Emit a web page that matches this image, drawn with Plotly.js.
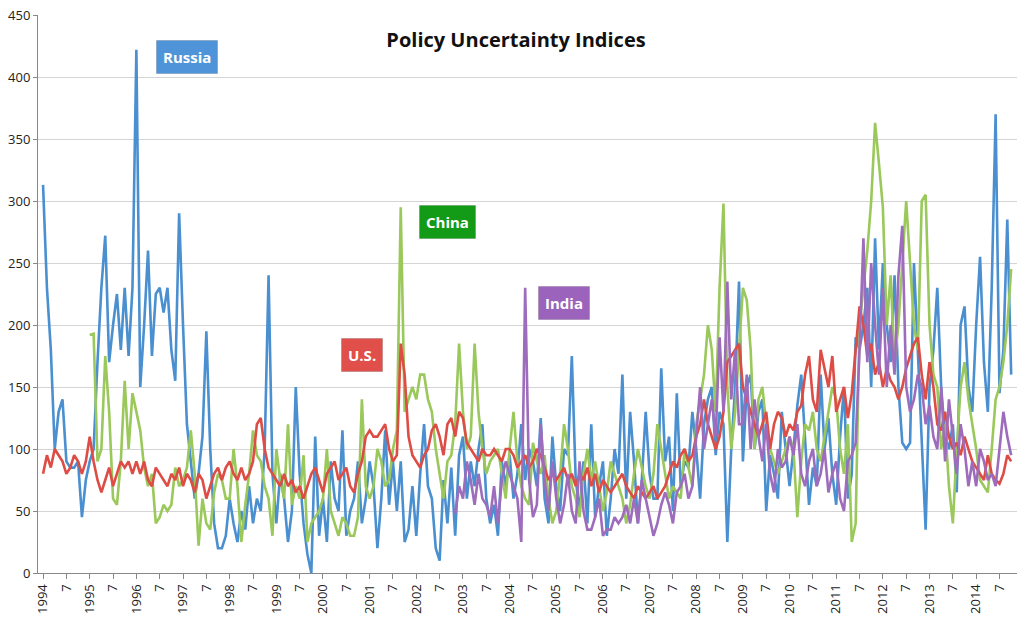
<!DOCTYPE html>
<html>
<head>
<meta charset="utf-8">
<script src="https://cdn.plot.ly/plotly-3.0.1.min.js"></script>
<style>html,body{margin:0;padding:0;background:#fff}#chart{width:1032px;height:630px}</style>
</head>
<body>
<div id="chart"></div>
<script>
// Monthly index values, Jan 1994 onwards (one row per year)
const russia = [
  313,230,180,100,130,140,90,85,85,90,45,75,
  90,100,170,230,272,170,200,225,180,230,175,230,
  422,150,200,260,175,225,230,210,230,180,155,290,
  200,120,90,60,80,110,195,100,40,20,20,30,
  60,40,25,50,35,70,40,60,50,100,240,80,
  40,80,60,25,50,150,80,40,15,0,110,30,
  60,25,90,60,50,115,30,50,60,90,40,60,
  90,70,20,60,115,55,90,50,90,25,35,70,
  30,80,120,70,60,20,10,75,40,85,30,95,
  110,60,90,70,100,120,60,40,55,30,90,70,
  95,60,80,120,75,100,90,70,125,60,40,110,
  70,50,100,95,175,75,50,90,40,120,45,70,
  90,30,60,100,80,160,60,130,90,40,75,130,
  80,60,60,165,90,110,50,145,70,90,85,130,
  100,60,120,140,150,95,130,120,25,100,150,235,
  90,150,160,100,130,140,50,95,80,60,130,100,
  70,100,135,160,110,55,85,70,160,100,125,80,
  55,110,150,60,80,190,180,200,230,150,270,180,
  250,200,170,240,150,105,100,105,250,180,100,35,
  150,180,230,150,110,100,120,65,200,215,150,130,
  200,255,170,130,230,370,145,180,285,160
];
const us = [
  80,95,85,100,95,90,80,85,95,90,80,90,
  110,90,75,65,75,85,70,80,90,85,90,80,
  90,80,90,75,70,85,80,75,70,80,75,85,
  70,80,75,65,80,75,60,70,80,85,75,85,
  90,80,75,85,75,80,90,120,125,100,85,80,
  75,70,80,70,75,65,70,60,70,80,85,75,
  65,80,85,90,75,80,85,70,65,80,90,110,
  115,110,110,115,120,100,90,95,185,160,110,95,
  90,85,95,100,115,120,110,95,120,125,110,130,
  125,105,100,95,90,100,95,95,100,95,90,100,
  100,95,85,90,95,85,90,100,95,85,75,80,
  75,80,85,75,80,70,80,75,85,70,80,65,
  75,70,65,70,75,80,70,65,60,70,65,60,
  65,70,60,65,70,80,90,85,95,100,90,95,
  110,120,140,120,110,100,110,130,170,175,180,185,
  150,140,130,120,110,120,130,100,120,130,125,110,
  120,115,130,135,160,175,140,130,180,165,150,175,
  130,140,150,125,145,180,215,200,175,185,160,170,
  150,165,155,150,140,150,165,175,185,190,160,140,
  170,150,120,115,130,110,100,105,95,110,100,90,
  85,80,75,95,80,75,72,80,95,90
];
const chinaStart = 12; // Jan 1995
const china = [
  192,193,90,100,175,130,60,55,90,155,100,145,
  130,115,85,70,80,40,45,55,50,55,85,70,
  75,85,115,80,22,60,40,35,65,80,75,60,
  60,100,70,25,55,80,115,95,90,70,60,30,
  100,75,60,120,55,70,60,95,25,40,45,50,
  60,100,50,40,30,45,40,30,30,45,140,70,
  60,70,100,90,70,75,100,115,295,130,140,150,
  140,160,160,140,130,100,80,60,90,95,120,185,
  130,100,110,185,130,100,80,90,95,100,80,60,
  100,130,90,70,60,55,105,90,80,95,60,40,
  50,80,120,100,70,60,45,80,100,75,90,70,
  50,65,90,80,70,60,40,55,80,100,85,70,
  60,80,120,100,80,60,70,65,60,100,85,70,
  120,140,160,200,180,130,230,298,150,100,130,180,
  230,220,180,100,140,150,120,100,90,80,90,100,
  110,100,45,90,120,115,130,100,90,110,130,150,
  140,100,80,120,25,40,200,230,260,300,363,330,
  295,200,240,170,200,250,300,250,200,180,300,305,
  200,160,150,100,120,70,40,100,150,170,140,120,
  100,75,70,65,100,140,150,170,200,245
];
const indiaStart = 106; // Nov 2002
const india = [
  48,70,
  60,90,75,55,80,60,55,45,70,40,75,90,
  80,70,60,25,230,75,45,55,120,75,50,90,
  60,40,55,80,50,40,90,50,35,35,45,60,
  30,35,35,45,40,45,55,40,60,40,75,60,
  45,30,40,55,65,55,40,65,70,80,60,70,
  110,150,100,120,140,110,190,130,235,140,180,120,
  120,160,100,140,110,90,120,80,65,100,85,90,
  110,95,120,80,70,90,100,70,80,100,65,80,
  90,60,50,90,95,105,180,270,170,250,200,160,
  230,150,200,160,240,280,150,130,140,160,150,120,
  135,110,100,150,90,140,110,80,120,100,70,90,
  70,100,90,75,80,70,100,130,110,95
];
const years = [1994,1995,1996,1997,1998,1999,2000,2001,2002,2003,2004,2005,2006,2007,2008,2009,2010,2011,2012,2013,2014];

const idx = (n, s) => Array.from({length: n}, (_, i) => i + s);
const tickvals = [], ticktext = [];
years.forEach((y, i) => {
  tickvals.push(i * 12, i * 12 + 6);
  ticktext.push(String(y), '7');
});

const line = (name, y, start, color) => ({
  x: idx(y.length, start), y, type: 'scatter', mode: 'lines', name,
  line: { color, width: 2.6 }, hoverinfo: 'skip',
});

const traces = [
  line('Russia', russia, 0, '#4a8fd0'),
  line('China', china, chinaStart, '#9ac85a'),
  line('U.S.', us, 0, '#dd4d45'),
  line('India', india, indiaStart, '#9e6cbc'),
];

const label = (text, x, y, bg) => ({
  text: '<b>' + text + '</b>', x, y, xref: 'x', yref: 'y', showarrow: false,
  bgcolor: bg, bordercolor: 'rgba(0,0,0,0.15)', borderpad: 6,
  font: { color: '#fff', size: 15, family: 'Open Sans, sans-serif' },
});

const layout = {
  width: 1032, height: 630,
  margin: { l: 38, r: 15, t: 15, b: 57 },
  paper_bgcolor: '#fff', plot_bgcolor: '#fff',
  showlegend: false,
  font: { family: 'Open Sans, sans-serif', color: '#222' },
  title: { text: '<b>Policy Uncertainty Indices</b>', x: 0.5, y: 0.947, font: { size: 20, color: '#111' } },
  xaxis: {
    range: [-1.3, 250.5], tickvals, ticktext, tickangle: -90,
    ticks: 'outside', ticklen: 5, tickcolor: '#888', showgrid: false, zeroline: false,
    showline: true, linecolor: '#888', tickfont: { size: 13, color: '#222' },
  },
  yaxis: {
    range: [0, 450], dtick: 50, showgrid: true, gridcolor: '#d4d4d4', zeroline: false,
    showline: true, linecolor: '#888', ticks: 'outside', ticklen: 4, tickcolor: '#888',
    tickfont: { size: 13, color: '#222' },
  },
  annotations: [
    label('Russia', 37, 416, '#4f94d8'),
    label('China', 104, 283, '#139a17'),
    label('U.S.', 82, 176, '#e04f4a'),
    label('India', 134, 218, '#9b63bb'),
  ],
};

Plotly.newPlot('chart', traces, layout, { displayModeBar: false, staticPlot: true });
</script>
</body>
</html>
